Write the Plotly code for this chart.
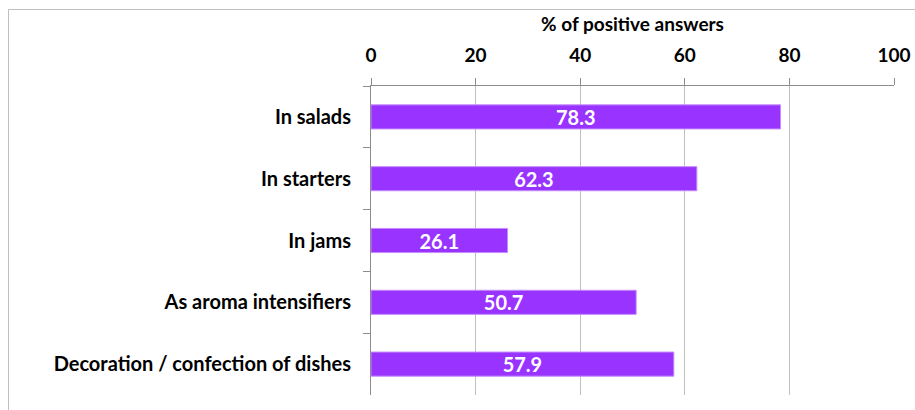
import plotly.graph_objects as go

categories = ["In salads", "In starters", "In jams", "As aroma intensifiers", "Decoration / confection of dishes"]
values = [78.3, 62.3, 26.1, 50.7, 57.9]
tick_vals = [0, 20, 40, 60, 80, 100]

FONT = "Lato"
W, H = 915, 410
L, R, T, B = 371, 21, 86, 15
pw = W - L - R
ph = H - T - B

def px_x(p):
    return (p - L) / pw

def px_y(p):
    return (H - B - p) / ph

fig = go.Figure(go.Bar(
    y=categories,
    x=values,
    orientation="h",
    width=0.39,
    marker=dict(color="#9933FF", line=dict(color="#C58BFF", width=1)),
    text=[f"{v:.1f}" for v in values],
    textposition="inside",
    insidetextanchor="middle",
    constraintext="none",
    textfont=dict(family=FONT, size=20, color="white", weight="bold"),
    cliponaxis=False,
    hoverinfo="skip",
))

fig.update_layout(
    width=W, height=H,
    margin=dict(l=L, r=R, t=T, b=B, autoexpand=False),
    paper_bgcolor="white",
    plot_bgcolor="white",
    showlegend=False,
    font=dict(family=FONT, color="black"),
    xaxis=dict(
        side="top",
        range=[0, 100],
        automargin=False,
        tickvals=tick_vals,
        ticktext=[str(v) for v in tick_vals],
        tickfont=dict(family=FONT, size=19, color="black", weight="bold"),
        showgrid=True, gridcolor="#C0C0C0", gridwidth=1,
        showline=True, linecolor="#8C8C8C", linewidth=1,
        ticks="outside", ticklen=7, tickcolor="#8C8C8C",
        ticklabelstandoff=8,
        zeroline=False,
        title=dict(text="% of positive answers",
                   font=dict(family=FONT, size=19, color="black", weight="bold"),
                   standoff=6),
        fixedrange=True,
    ),
    yaxis=dict(
        autorange="reversed",
        type="category",
        automargin=False,
        tickfont=dict(family=FONT, size=20, color="black", weight="bold"),
        showline=True, linecolor="#8C8C8C", linewidth=1,
        ticks="outside", ticklen=7, tickcolor="#8C8C8C",
        tickson="boundaries",
        ticklabelstandoff=15,
        showgrid=False,
        fixedrange=True,
    ),
    shapes=[dict(
        type="rect", xref="paper", yref="paper",
        x0=px_x(8.5), x1=px_x(950), y0=px_y(450), y1=px_y(9.5),
        line=dict(color="#BFBFBF", width=1), fillcolor="rgba(0,0,0,0)",
        layer="below",
    )],
)

fig.write_html("out.html")
